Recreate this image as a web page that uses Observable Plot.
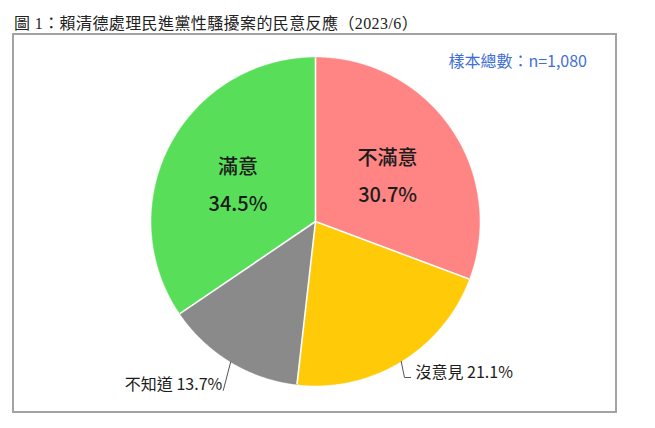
<!DOCTYPE html>
<html>
<head>
<meta charset="utf-8">
<script src="https://cdn.jsdelivr.net/npm/d3@7"></script>
<script src="https://cdn.jsdelivr.net/npm/@observablehq/plot@0.6"></script>
<style>
  html, body { margin: 0; padding: 0; background: #fff; }
  body { width: 655px; height: 428px; position: relative; overflow: hidden; }
  #title { position: absolute; left: 14px; top: 10px; font-family: "Liberation Serif", "Noto Sans CJK TC", serif; font-size: 16px; color: #222; white-space: nowrap; letter-spacing: 0.4px; }
  #chart { position: absolute; left: 13px; top: 34px; width: 603px; height: 378px; }
  #frame { position: absolute; left: 12px; top: 33px; width: 601px; height: 376px; border: 2px solid #a3a3a3; pointer-events: none; }
  #sample { position: absolute; right: 68px; top: 48px; font-family: "Noto Sans CJK TC", sans-serif; font-size: 16px; color: #3f6fd6; white-space: nowrap; }
</style>
</head>
<body>
<div id="title">圖 1：賴清德處理民進黨性騷擾案的民意反應（2023/6）</div>
<div id="chart"></div>
<div id="frame"></div>
<div id="sample">樣本總數：n=1,080</div>
<script>
// ---- data ----
const categories = ["不滿意", "沒意見", "不知道", "滿意"];
const values = [30.7, 21.1, 13.7, 34.5];
const sampleLabel = "樣本總數：n=1,080";

// ---- layout helpers (not data) ----
const palette = ["#ff8585", "#ffcb08", "#8a8a8a", "#59de59"];
const pie = d3.pie().sort(null).value(d => d.value)
  .startAngle(0).endAngle(2 * Math.PI);
const arcs = pie(categories.map((c, i) => ({cat: c, value: values[i], color: palette[i]})));
const px = (a, r) => r * Math.sin(a);
const py = (a, r) => r * Math.cos(a);

// polygon points for each slice
const polys = arcs.map(a => {
  const pts = [{x: 0, y: 0}];
  const n = Math.max(2, Math.ceil((a.endAngle - a.startAngle) / (Math.PI / 360)));
  for (let k = 0; k <= n; k++) {
    const t = a.startAngle + (a.endAngle - a.startAngle) * k / n;
    pts.push({x: px(t, 1), y: py(t, 1)});
  }
  pts.push({x: 0, y: 0});
  return {cat: a.data.cat, color: a.data.color, pts};
});

// separators
const seps = arcs.map(a => ({x1: 0, y1: 0, x2: px(a.startAngle, 1), y2: py(a.startAngle, 1)}));

// inside labels (big slices)
const mid = a => (a.startAngle + a.endAngle) / 2;
const inside = arcs.filter(a => a.data.value > 25).map(a => ({
  x: px(mid(a), 0.535), y: py(mid(a), 0.535),
  text: a.data.cat + "\n" + a.data.value.toFixed(1) + "%"
}));

// outside labels (small slices) with leader lines
const deg = Math.PI / 180;
const outsideSpec = {"沒意見": {r: 1.095, da: 1.8 * deg, side: 1}, "不知道": {r: 1.173, da: -2.5 * deg, side: -1}};
const outside = arcs.filter(a => a.data.value <= 25).map(a => {
  const s = outsideSpec[a.data.cat];
  const m = mid(a);
  const ex = px(m + s.da, s.r), ey = py(m + s.da, s.r);
  const pts = [{x: px(m, 1), y: py(m, 1)}, {x: ex, y: ey}];
  if (s.side > 0) pts.push({x: ex + 0.037, y: ey});
  return {
    cat: a.data.cat, pts, side: s.side,
    tx: ex, ty: ey,
    text: a.data.cat + " " + a.data.value.toFixed(1) + "%"
  };
});

const font = "'Noto Sans CJK TC', 'Noto Sans', sans-serif";
const marks = [];
polys.forEach(p => marks.push(Plot.line(p.pts, {x: "x", y: "y", fill: p.color, stroke: p.color, strokeWidth: 0.5, curve: "linear"})));
marks.push(Plot.link(seps, {x1: "x1", y1: "y1", x2: "x2", y2: "y2", stroke: "white", strokeWidth: 1.6}));
marks.push(Plot.text(inside, {x: "x", y: "y", text: "text", fontSize: 20, lineHeight: 1.85, fill: "#1c1c1c", fontFamily: font, fontWeight: 500}));
outside.forEach(o => {
  marks.push(Plot.line(o.pts, {x: "x", y: "y", stroke: "#555", strokeWidth: 1, curve: "linear"}));
});
marks.push(Plot.text(outside.filter(o => o.side > 0), {x: "tx", y: "ty", text: "text", textAnchor: "start", dx: 11, dy: -5, fontSize: 16, fill: "#1c1c1c", fontFamily: font}));
marks.push(Plot.text(outside.filter(o => o.side < 0), {x: "tx", y: "ty", text: "text", textAnchor: "end", dx: -1, dy: -5, fontSize: 16, fill: "#1c1c1c", fontFamily: font}));

const chart = Plot.plot({
  width: 603, height: 378,
  margin: 0,
  style: {background: "transparent", overflow: "visible"},
  x: {domain: [-1, 1], range: [138, 466], axis: null},
  y: {domain: [-1, 1], range: [351, 23], axis: null},
  marks
});
document.getElementById("chart").appendChild(chart);
document.getElementById("sample").textContent = sampleLabel;
</script>
</body>
</html>
